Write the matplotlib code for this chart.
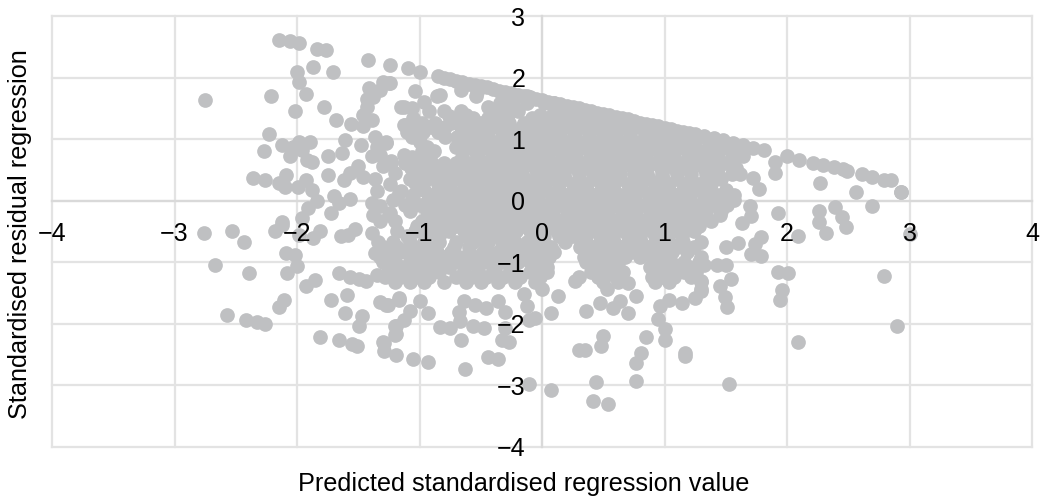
import matplotlib
matplotlib.use('Agg')
import matplotlib.pyplot as plt

plt.rcParams['font.family'] = ['Liberation Sans', 'DejaVu Sans']

# axis ticks
x_ticks = [-4, -3, -2, -1, 0, 1, 2, 3, 4]
y_ticks = [-4, -3, -2, -1, 0, 1, 2, 3]

# upper edge of the cloud
edge_x = [-0.85, -0.80, -0.75, -0.70, -0.65, -0.60, -0.55, -0.50, -0.45, -0.40, -0.35, -0.30, -0.25, -0.20, -0.15, -0.10, -0.05, 0.0,
          0.05, 0.10, 0.15, 0.20, 0.25, 0.30, 0.35, 0.40, 0.45, 0.50, 0.55, 0.60, 0.65, 0.70, 0.75, 0.80, 0.85, 0.90,
          0.95, 1.0, 1.05, 1.10, 1.15, 1.20, 1.25, 1.32, 1.40, 1.48, 1.56, 1.64, 1.72, 1.81, 2.0, 2.10, 2.21, 2.29, 2.38, 2.46, 2.49, 2.61, 2.69,
          2.79, 2.85, 2.93]
edge_y = [2.03, 2.00, 1.98, 1.95, 1.93, 1.90, 1.88, 1.86, 1.84, 1.81, 1.79, 1.77, 1.75, 1.72, 1.70, 1.68, 1.66, 1.63,
          1.61, 1.59, 1.57, 1.54, 1.52, 1.50, 1.48, 1.45, 1.43, 1.41, 1.39, 1.36, 1.34, 1.32, 1.30, 1.27, 1.25, 1.23,
          1.21, 1.18, 1.16, 1.14, 1.12, 1.10, 1.08, 1.05, 1.02, 0.98, 0.94, 0.91, 0.85, 0.82, 0.73, 0.66, 0.61, 0.58, 0.54, 0.51, 0.48, 0.43, 0.39,
          0.34, 0.34, 0.14]

# scattered points on the left
left_x = [-2.15, -2.06, -1.98, -1.84, -1.76, -1.42, -1.24, -1.87, -2.0, -1.71, -1.98, -1.93, -2.21, -2.75, -2.02, -1.78, -1.68,
          -1.56, -1.46, -1.39, -1.46, -1.43, -1.43, -1.38, -1.41, -1.32, -1.30, -1.24, -2.23, -2.27, -2.12, -2.06, -2.03, -1.98,
          -1.89, -1.96, -1.92, -1.88, -1.75, -1.63, -1.61, -1.48, -1.36, -1.27, -1.35, -1.39, -1.75, -2.36, -2.26, -2.15, -2.09,
          -2.10, -1.99, -1.93, -1.88, -1.84, -1.91, -1.96, -2.12, -1.70, -1.66, -1.72, -1.57, -1.62, -1.5, -1.57, -1.46, -1.39,
          -1.35, -1.32, -1.24, -1.17, -1.3, -1.23, -1.32, -1.15, -1.13, -1.09, -1.0, -1.25, -1.04, -0.83, -0.66, -0.53, -1.13,
          -1.06, -0.96, -0.44, -0.66, -0.76, -1.12, -0.87, -0.56, -1.27, -1.13, -1.23, -1.2, -1.15, -1.04]
left_y = [2.61, 2.59, 2.56, 2.46, 2.44, 2.29, 2.20, 2.17, 2.09, 2.09, 1.92, 1.73, 1.70, 1.64, 1.46, 1.52, 1.31,
          1.25, 1.22, 1.31, 1.39, 1.53, 1.66, 1.69, 1.83, 1.80, 1.93, 1.91, 1.08, 0.81, 0.90, 0.72, 0.88, 0.96,
          0.96, 0.83, 0.66, 0.63, 0.73, 0.78, 0.99, 0.90, 1.03, 0.96, 0.88, 0.72, 0.42, 0.37, 0.34, 0.29, 0.41,
          0.23, 0.22, 0.34, 0.18, -0.01, -0.12, -0.28, -0.34, 0.07, -0.04, -0.2, 0.02, 0.34, 0.56, 0.45, 0.39, -0.04,
          0.15, -0.09, -0.2, 0.12, 0.56, 0.61, 0.75, 1.53, 1.23, 2.15, 2.09, 1.91, 1.79, 1.72, 1.8, 1.77, 1.53,
          1.50, 1.61, 1.53, 1.45, 1.37, 1.23, 1.26, 1.31, 0.94, 0.75, 0.64, 0.45, 0.15, 0.29]

# scattered points below the x axis, left side
low_left_x = [-2.76, -2.53, -2.43, -2.18, -2.12, -1.98, -1.87, -1.81, -1.64, -1.58, -1.53, -1.39, -2.09, -2.02, -2.0, -2.08, -2.67,
              -2.39, -1.85, -1.93, -1.66, -1.57, -1.49, -1.44, -1.36, -1.28, -1.35, -1.23, -1.59, -1.72, -1.61, -1.47, -1.49,
              -2.11, -2.15, -2.57, -2.42, -2.33, -2.26, -1.81, -1.66, -1.55, -1.51, -1.30, -1.29, -1.19, -1.19, -1.19, -1.32,
              -1.26, -1.17, -0.93, -1.05, -0.63, -0.66, -0.44, -0.36, -0.33, -0.27, -0.30, -0.47, -0.56, -0.67, -0.75, -0.83,
              -0.68, -0.64, -0.55, -0.46, -0.36, -0.30, -1.20, -1.20, -1.13, -1.08, -1.0, -0.93, -1.17, -1.27, -1.29]
low_left_y = [-0.52, -0.50, -0.67, -0.50, -0.39, -0.55, -0.61, -0.50, -0.58, -0.55, -0.46, -0.52, -0.85, -0.88, -1.06, -1.17, -1.05,
              -1.17, -1.29, -1.38, -1.17, -1.24, -1.27, -1.30, -0.85, -0.88, -1.20, -1.23, -1.53, -1.61, -1.82, -1.88, -2.03,
              -1.61, -1.73, -1.86, -1.94, -1.97, -2.01, -2.21, -2.26, -2.32, -2.36, -2.30, -2.44, -2.51, -2.17, -2.04, -1.64,
              -1.70, -1.61, -2.62, -2.57, -2.74, -2.27, -2.54, -2.57, -2.27, -2.30, -2.07, -2.07, -2.03, -1.96, -2.07, -2.05,
              -1.80, -1.63, -1.69, -1.74, -1.63, -1.80, -2.18, -2.03, -1.93, -1.79, -1.63, -1.83, -1.58, -1.69, -2.31]

# scattered points below the x axis, centre and right
low_right_x = [-0.15, -0.125, -0.11, -0.06, 0.0, 0.07, 0.13, 0.27, 0.36, 0.47, 0.53, 0.58, 0.64, 0.70, 0.70, 0.77, 0.50, 0.48, 0.35, 0.30,
               0.85, 0.81, 0.77, 1.17, 1.17, 1.0, 1.0, 0.95, 0.96, 0.77, 0.44, 0.42, 0.54, 0.07, -0.11, 1.25, 1.14, 1.04, 1.30,
               1.32, 1.43, 1.50, 1.54, 1.45, 1.49, 1.51, 1.30, 1.30, 1.93, 2.01, 1.96, 1.94, 2.79, 2.90, 2.09, 1.53]
low_right_y = [-1.52, -1.71, -1.93, -1.90, -1.44, -1.82, -1.55, -1.31, -1.79, -1.66, -1.44, -1.74, -1.63, -1.34, -1.82, -1.54, -2.19, -2.36, -2.42, -2.42,
               -2.21, -2.47, -2.63, -2.47, -2.53, -2.09, -2.27, -1.92, -1.71, -2.93, -2.95, -3.25, -3.30, -3.07, -2.97, -1.58, -1.66, -1.61, -1.44,
               -1.04, -1.04, -1.05, -1.27, -1.38, -1.56, -1.73, -1.31, -1.47, -1.15, -1.17, -1.45, -1.62, -1.23, -2.03, -2.30, -2.97]

# scattered points on the right, around the x axis
right_x = [2.93, 2.56, 2.69, 2.27, 1.90, 1.90, 1.72, 1.77, 1.93, 2.39, 2.26, 2.26, 2.45, 2.48, 2.32, 2.09, 3.0, 1.79, 1.74, 1.71, 1.79,
           1.60, 1.50, 1.63, 1.71, 1.70, 1.64, 1.56]
right_y = [0.14, 0.14, -0.08, 0.29, 0.63, 0.45, 0.37, 0.19, -0.20, -0.10, -0.16, -0.35, -0.26, -0.43, -0.52, -0.58, -0.54, -0.59, -0.71, -0.86, -0.90,
           -0.68, -0.75, -0.36, -0.25, -0.08, 0.72, 0.80]

# dense middle of the cloud, one list of x per level of y
body_levels = [1.40, 1.27, 1.12, 0.95, 0.80, 0.62, 0.44, 0.27, 0.10, -0.07, -0.24, -0.41, -0.58, -0.75, -0.92, -1.08, -1.24]
body_xs = [
    [-0.62, -0.38, -0.28, -0.02, 0.18, 0.30, 0.42],
    [-0.98, -0.74, -0.62, -0.50, -0.38, -0.27, -0.15, -0.02, 0.10, 0.22, 0.33, 0.45, 0.57, 0.68],
    [-1.10, -0.97, -0.85, -0.60, -0.46, -0.33, -0.22, -0.10, 0.02, 0.15, 0.27, 0.38, 0.50, 0.60, 0.72, 0.84, 0.95, 1.07],
    [-1.00, -0.63, -0.50, -0.38, -0.25, -0.14, -0.02, 0.10, 0.20, 0.32, 0.44, 0.55, 0.66, 0.78, 0.90, 1.00, 1.12, 1.24, 1.36, 1.46],
    [-0.98, -0.88, -0.55, -0.42, -0.32, -0.20, -0.08, 0.03, 0.15, 0.27, 0.38, 0.50, 0.60, 0.72, 0.84, 0.95, 1.06, 1.18, 1.30, 1.42, 1.54],
    [-1.12, -1.00, -0.90, -0.80, -0.70, -0.58, -0.47, -0.35, -0.23, -0.12, 0.00, 0.12, 0.22, 0.34, 0.46, 0.57, 0.68, 0.80, 0.92, 1.03, 1.14, 1.26, 1.38, 1.50],
    [-1.02, -0.92, -0.80, -0.70, -0.60, -0.50, -0.38, -0.27, -0.16, -0.04, 0.07, 0.18, 0.30, 0.42, 0.52, 0.64, 0.75, 0.86, 0.98, 1.10, 1.22, 1.34, 1.44, 1.55, 1.62],
    [-1.24, -0.98, -0.85, -0.75, -0.64, -0.53, -0.42, -0.31, -0.20, -0.09, 0.02, 0.14, 0.25, 0.36, 0.48, 0.58, 0.70, 0.80, 0.92, 1.04, 1.16, 1.28, 1.38],
    [-1.05, -0.90, -0.80, -0.70, -0.58, -0.47, -0.36, -0.25, -0.14, -0.03, 0.08, 0.19, 0.31, 0.42, 0.53, 0.64, 0.76, 0.87, 0.98, 1.09, 1.20, 1.32, 1.44, 1.57],
    [-1.12, -1.00, -0.87, -0.76, -0.65, -0.53, -0.42, -0.30, -0.20, -0.09, 0.03, 0.14, 0.26, 0.36, 0.48, 0.59, 0.70, 0.82, 0.93, 1.05, 1.16, 1.27, 1.40, 1.51],
    [-1.38, -1.25, -0.88, -0.78, -0.68, -0.56, -0.44, -0.34, -0.23, -0.12, 0.00, 0.09, 0.20, 0.32, 0.43, 0.54, 0.65, 0.77, 0.88, 1.00, 1.10, 1.22, 1.32, 1.45],
    [-1.02, -0.92, -0.82, -0.70, -0.59, -0.48, -0.37, -0.26, -0.15, -0.04, 0.06, 0.18, 0.28, 0.40, 0.51, 0.62, 0.73, 0.84, 0.96, 1.07, 1.18, 1.28],
    [-1.10, -0.95, -0.84, -0.62, -0.50, -0.40, -0.28, -0.08, 0.02, 0.14, 0.25, 0.36, 0.47, 0.58, 0.70, 0.80, 0.92, 1.03, 1.14],
    [-1.30, -1.18, -1.05, -0.92, -0.72, -0.60, -0.46, -0.33, -0.22, -0.05, 0.07, 0.31, 0.42, 0.54, 0.65, 0.76, 0.87, 0.98, 1.10, 1.24],
    [-1.32, -1.20, -1.06, -0.94, -0.80, -0.68, -0.55, -0.42, -0.30, -0.16, -0.02, 0.06, 0.34, 0.46, 0.57, 0.68, 0.80, 0.90, 1.02, 1.30],
    [-1.26, -1.14, -1.02, -0.90, -0.76, -0.64, -0.52, -0.38, -0.24, -0.04, 0.04, 0.42, 0.52, 0.62, 0.88, 0.98, 1.10, 1.20],
    [-1.28, -1.16, -1.04, -0.92, -0.70, -0.58, -0.46, -0.32, -0.18, -0.02, 0.30, 0.46, 0.60, 0.90, 0.98, 1.08, 1.22],
]

# second set of levels, between the ones above
fill_levels = [1.70, 1.58, 1.46, 1.34, 1.20, 1.04, 0.88, 0.71, 0.53, 0.36, 0.18, 0.01, -0.16, -0.33, -0.50, -0.67, -0.84, -1.00, -1.16, -1.32]
fill_xs = [
    [-0.86, -0.54, -0.28, -0.12],
    [-0.34, -0.24, -0.12, 0.02, 0.10],
    [-0.92, -0.80, -0.32, -0.20, 0.10, 0.24, 0.34],
    [-1.05, -0.68, -0.56, -0.44, -0.32, -0.08, 0.04, 0.16, 0.28, 0.39, 0.51, 0.60],
    [-1.04, -0.91, -0.79, -0.66, -0.53, -0.40, -0.28, -0.16, -0.04, 0.08, 0.21, 0.33, 0.44, 0.55, 0.66, 0.78, 0.90],
    [-1.06, -0.79, -0.69, -0.56, -0.44, -0.31, -0.20, -0.08, 0.04, 0.15, 0.26, 0.38, 0.50, 0.60, 0.72, 0.84, 0.95, 1.06, 1.18, 1.28],
    [-0.94, -0.70, -0.60, -0.48, -0.37, -0.26, -0.14, -0.02, 0.09, 0.21, 0.32, 0.44, 0.55, 0.66, 0.78, 0.89, 1.00, 1.12, 1.24, 1.36, 1.48, 1.60],
    [-1.06, -0.93, -0.65, -0.52, -0.41, -0.29, -0.18, -0.06, 0.05, 0.17, 0.28, 0.40, 0.51, 0.62, 0.74, 0.85, 0.97, 1.08, 1.20, 1.32, 1.44, 1.56],
    [-1.07, -0.97, -0.86, -0.75, -0.64, -0.53, -0.42, -0.30, -0.18, -0.06, 0.06, 0.17, 0.28, 0.40, 0.51, 0.62, 0.74, 0.86, 0.97, 1.08, 1.20, 1.32, 1.44, 1.58],
    [-1.36, -1.08, -0.94, -0.82, -0.71, -0.59, -0.48, -0.36, -0.25, -0.14, -0.03, 0.08, 0.19, 0.30, 0.42, 0.53, 0.64, 0.76, 0.87, 0.99, 1.10, 1.22, 1.34, 1.46],
    [-0.96, -0.85, -0.74, -0.64, -0.52, -0.41, -0.30, -0.19, -0.08, 0.03, 0.14, 0.25, 0.37, 0.48, 0.59, 0.71, 0.82, 0.93, 1.04, 1.15, 1.26, 1.37, 1.50],
    [-1.22, -1.06, -0.93, -0.82, -0.71, -0.60, -0.48, -0.37, -0.25, -0.14, -0.03, 0.08, 0.20, 0.31, 0.43, 0.54, 0.65, 0.76, 0.88, 0.99, 1.10, 1.21, 1.33, 1.46, 1.57],
    [-1.08, -0.94, -0.83, -0.72, -0.60, -0.49, -0.37, -0.26, -0.15, -0.04, 0.08, 0.20, 0.31, 0.42, 0.54, 0.65, 0.76, 0.88, 0.99, 1.11, 1.22, 1.34, 1.46],
    [-1.32, -1.20, -0.98, -0.84, -0.73, -0.62, -0.50, -0.39, -0.28, -0.17, -0.06, 0.05, 0.15, 0.26, 0.38, 0.49, 0.60, 0.71, 0.82, 0.94, 1.05, 1.16, 1.27, 1.38],
    [-1.18, -1.04, -0.90, -0.76, -0.64, -0.53, -0.42, -0.31, -0.21, -0.10, 0.01, 0.12, 0.23, 0.34, 0.45, 0.56, 0.67, 0.79, 0.90, 1.02, 1.12, 1.24],
    [-1.34, -1.22, -1.08, -0.96, -0.84, -0.70, -0.56, -0.44, -0.33, -0.22, -0.12, 0.02, 0.19, 0.36, 0.47, 0.59, 0.70, 0.81, 0.92, 1.04, 1.15, 1.30],
    [-1.26, -1.12, -0.98, -0.86, -0.74, -0.60, -0.48, -0.36, -0.26, -0.12, 0.00, 0.10, 0.40, 0.51, 0.62, 0.73, 0.83, 0.95, 1.06, 1.18],
    [-1.30, -1.20, -1.08, -0.96, -0.84, -0.71, -0.58, -0.45, -0.32, -0.20, -0.10, 0.02, 0.36, 0.50, 0.62, 0.94, 1.05, 1.16, 1.28],
    [-1.22, -1.10, -0.98, -0.84, -0.64, -0.52, -0.40, -0.26, -0.10, 0.04, 0.40, 0.54, 0.66, 0.92, 1.02, 1.16, 1.26],
    [-1.20, -1.08, -0.96, -0.80, -0.62, -0.50, -0.36, -0.22, -0.06, 0.50, 0.62, 0.92, 1.04, 1.30],
]

grid_color = '#E3E3E3'
dot_color = '#BFC0C2'

fig = plt.figure(figsize=(10.49, 4.98), dpi=100)
ax = fig.add_axes([52 / 1049, 1 - 447 / 498, 980 / 1049, 431 / 498])

for t in x_ticks:
    ax.axvline(t, color=grid_color, lw=1.6, zorder=0, clip_on=False)
for t in y_ticks:
    ax.axhline(t, color=grid_color, lw=1.6, zorder=0, clip_on=False)

ax.scatter(edge_x, edge_y, s=112, color=dot_color, linewidths=0, zorder=1, clip_on=False)
ax.scatter(left_x, left_y, s=112, color=dot_color, linewidths=0, zorder=1)
ax.scatter(low_left_x, low_left_y, s=112, color=dot_color, linewidths=0, zorder=1)
ax.scatter(low_right_x, low_right_y, s=112, color=dot_color, linewidths=0, zorder=1)
ax.scatter(right_x, right_y, s=112, color=dot_color, linewidths=0, zorder=1)
for level, xs in zip(body_levels, body_xs):
    ax.scatter(xs, [level] * len(xs), s=112, color=dot_color, linewidths=0, zorder=1)
for level, xs in zip(fill_levels, fill_xs):
    ax.scatter(xs, [level] * len(xs), s=112, color=dot_color, linewidths=0, zorder=1)

ax.set_xlim(-4, 4)
ax.set_ylim(-4, 3)
ax.set_xticks(x_ticks)
ax.set_yticks(y_ticks)
ax.tick_params(length=0, labelsize=18, labelcolor='black')
ax.tick_params(axis='x', pad=15)
ax.tick_params(axis='y', pad=12)

for side in ['top', 'right']:
    ax.spines[side].set_visible(False)
for side in ['left', 'bottom']:
    ax.spines[side].set_position('zero')
    ax.spines[side].set_color('#D9D9D9')
    ax.spines[side].set_linewidth(1.6)
    ax.spines[side].set_zorder(0.5)

fig.text(524 / 1049, 1 - 484 / 498, 'Predicted standardised regression value', ha='center', va='center', fontsize=18.2, color='black')
fig.text(20 / 1049, 1 - 234 / 498, 'Standardised residual regression', ha='center', va='center', rotation=90, fontsize=18.2, color='black')

fig.savefig('out.png', dpi=100)
